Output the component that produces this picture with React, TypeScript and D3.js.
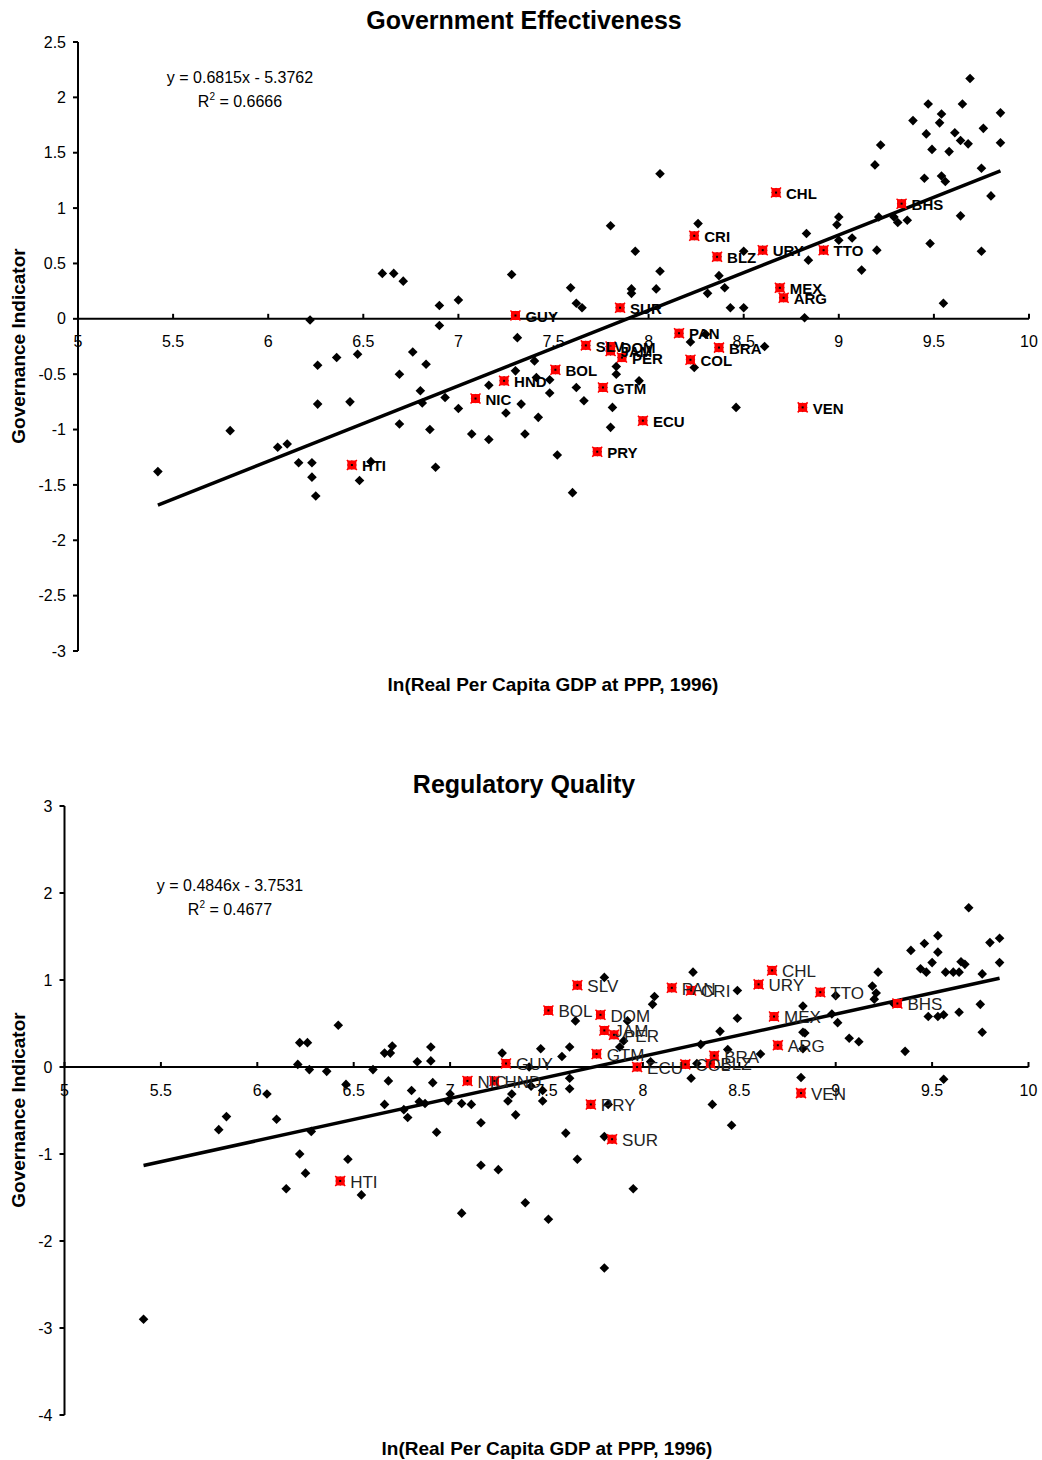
import React from "react";
import * as d3 from "d3";

// ---------- Government Effectiveness ----------
const geTitle = "Government Effectiveness";
const geSlope = 0.6815;
const geIntercept = -5.3762;
const geR2 = "0.6666";
const geYTicks = [2.5, 2, 1.5, 1, 0.5, 0, -0.5, -1, -1.5, -2, -2.5, -3];
const geOthers: [number, number][] = [
  [5.42, -1.38], [5.80, -1.01], [6.05, -1.16], [6.10, -1.13], [6.16, -1.30], [6.23, -1.30],
  [6.23, -1.43], [6.25, -1.60], [6.26, -0.42], [6.26, -0.77], [6.36, -0.35], [6.47, -0.32],
  [6.43, -0.75], [6.22, -0.01], [6.48, -1.46], [6.60, 0.41], [6.66, 0.41], [6.71, 0.34],
  [6.90, 0.12], [7.00, 0.17], [6.90, -0.06], [6.76, -0.30], [6.83, -0.41], [6.69, -0.50],
  [6.80, -0.65], [6.81, -0.76], [6.93, -0.71], [7.00, -0.81], [6.69, -0.95], [6.85, -1.00],
  [7.07, -1.04], [6.54, -1.29], [6.88, -1.34], [8.06, 1.31], [7.80, 0.84], [7.93, 0.61],
  [8.06, 0.43], [7.91, 0.27], [8.04, 0.27], [7.91, 0.23], [7.28, 0.40], [7.59, 0.28],
  [7.62, 0.14], [7.65, 0.10], [7.31, -0.17], [7.40, -0.38], [7.83, -0.43], [7.83, -0.50],
  [7.30, -0.47], [7.41, -0.53], [7.48, -0.55], [7.16, -0.60], [7.62, -0.62], [7.95, -0.56],
  [7.48, -0.67], [7.33, -0.77], [7.25, -0.85], [7.42, -0.89], [7.66, -0.74], [7.81, -0.80],
  [7.16, -1.09], [7.35, -1.04], [7.80, -0.98], [7.52, -1.23], [7.60, -1.57], [8.26, 0.86],
  [8.50, 0.61], [8.37, 0.39], [8.31, 0.23], [8.40, 0.28], [8.43, 0.10], [8.50, 0.10],
  [8.30, -0.14], [8.22, -0.21], [8.61, -0.25], [8.24, -0.44], [8.46, -0.80], [9.69, 2.17],
  [9.47, 1.94], [9.65, 1.94], [9.54, 1.85], [9.85, 1.86], [9.39, 1.79], [9.53, 1.77],
  [9.76, 1.72], [9.46, 1.67], [9.61, 1.68], [9.64, 1.61], [9.68, 1.58], [9.22, 1.57],
  [9.85, 1.59], [9.49, 1.53], [9.58, 1.51], [9.19, 1.39], [9.75, 1.36], [9.45, 1.27],
  [9.54, 1.29], [9.56, 1.24], [9.80, 1.11], [9.00, 0.92], [8.99, 0.85], [9.21, 0.92],
  [9.29, 0.92], [9.31, 0.87], [9.36, 0.89], [9.64, 0.93], [8.83, 0.77], [9.00, 0.71],
  [9.07, 0.73], [9.48, 0.68], [9.75, 0.61], [8.84, 0.53], [9.20, 0.62], [9.12, 0.44],
  [9.55, 0.14], [8.82, 0.01],
];
const geCodes = ["HTI", "NIC", "HND", "GUY", "BOL", "SLV", "GTM", "PRY", "SUR", "DOM", "JAM", "PER", "ECU",
  "PAN", "COL", "CRI", "BLZ", "BRA", "URY", "CHL", "MEX", "ARG", "VEN", "TTO", "BHS"];
const geLacX = [6.44, 7.09, 7.24, 7.30, 7.51, 7.67, 7.76, 7.73, 7.85, 7.80, 7.80, 7.86, 7.97,
  8.16, 8.22, 8.24, 8.36, 8.37, 8.60, 8.67, 8.69, 8.71, 8.81, 8.92, 9.33];
const geLacY = [-1.32, -0.72, -0.56, 0.03, -0.46, -0.24, -0.62, -1.20, 0.10, -0.25, -0.29, -0.35, -0.92,
  -0.13, -0.37, 0.75, 0.56, -0.26, 0.62, 1.14, 0.28, 0.19, -0.80, 0.62, 1.04];

// ---------- Regulatory Quality ----------
const rqTitle = "Regulatory Quality";
const rqSlope = 0.4846;
const rqIntercept = -3.7531;
const rqR2 = "0.4677";
const rqYTicks = [3, 2, 1, 0, -1, -2, -3, -4];
const rqOthers: [number, number][] = [
  [6.42, 0.48], [6.22, 0.28], [6.26, 0.28], [6.21, 0.03], [6.27, -0.03], [6.36, -0.05],
  [6.46, -0.20], [6.05, -0.31], [6.10, -0.60], [6.60, -0.03], [6.66, 0.16], [6.70, 0.24],
  [6.69, 0.16], [6.90, 0.23], [6.90, 0.07], [6.83, 0.06], [6.68, -0.16], [6.91, -0.18],
  [6.80, -0.27], [6.66, -0.43], [6.84, -0.40], [6.87, -0.42], [6.99, -0.39], [7.00, -0.31],
  [7.06, -0.42], [7.11, -0.43], [6.76, -0.49], [6.78, -0.58], [6.93, -0.75], [7.16, -0.64],
  [7.27, 0.16], [7.30, -0.39], [7.32, -0.31], [7.34, -0.55], [7.42, -0.22], [7.47, 0.21],
  [7.48, -0.39], [7.48, -0.27], [6.28, -0.74], [5.80, -0.72], [5.84, -0.57], [6.22, -1.00],
  [6.47, -1.06], [6.25, -1.22], [6.15, -1.40], [6.54, -1.47], [5.41, -2.90], [7.16, -1.13],
  [7.25, -1.18], [7.06, -1.68], [7.39, -1.56], [7.51, -1.75], [7.95, -1.40], [7.80, -2.31],
  [7.41, 0.00], [7.58, 0.12], [7.62, 0.23], [7.62, -0.13], [7.62, -0.25], [7.60, -0.76],
  [7.66, -1.06], [7.80, -0.80], [7.82, -0.43], [7.80, 1.03], [7.65, 0.53], [7.92, 0.53],
  [7.90, 0.30], [7.88, 0.23], [8.04, 0.06], [8.06, 0.81], [8.05, 0.72], [8.26, 1.09],
  [8.40, 0.41], [8.30, 0.26], [8.44, 0.20], [8.25, -0.13], [8.36, -0.43], [8.46, -0.67],
  [8.28, 0.04], [8.49, 0.88], [8.49, 0.56], [8.61, 0.15], [8.83, 0.70], [8.83, 0.40],
  [8.84, 0.39], [8.83, 0.21], [8.82, -0.12], [8.98, 0.61], [9.01, 0.51], [9.00, 0.82],
  [9.07, 0.33], [9.12, 0.29], [9.19, 0.93], [9.21, 0.85], [9.20, 0.78], [9.22, 1.09],
  [9.30, 0.73], [9.36, 0.18], [9.39, 1.34], [9.44, 1.13], [9.47, 1.09], [9.46, 1.42],
  [9.50, 1.20], [9.53, 1.51], [9.53, 1.32], [9.57, 1.09], [9.61, 1.09], [9.64, 1.09],
  [9.65, 1.21], [9.67, 1.18], [9.69, 1.83], [9.76, 1.07], [9.80, 1.43], [9.85, 1.48],
  [9.85, 1.20], [9.75, 0.72], [9.64, 0.63], [9.48, 0.58], [9.53, 0.58], [9.56, 0.60],
  [9.76, 0.40], [9.56, -0.14],
];
const rqCodes = ["HTI", "NIC", "HND", "GUY", "BOL", "SLV", "DOM", "JAM", "PER", "GTM", "PRY", "SUR", "ECU",
  "PAN", "CRI", "COL", "BLZ", "BRA", "URY", "CHL", "MEX", "ARG", "VEN", "TTO", "BHS"];
const rqLacX = [6.43, 7.09, 7.23, 7.29, 7.51, 7.66, 7.78, 7.80, 7.85, 7.76, 7.73, 7.84, 7.97,
  8.15, 8.25, 8.22, 8.35, 8.37, 8.60, 8.67, 8.68, 8.70, 8.82, 8.92, 9.32];
const rqLacY = [-1.31, -0.16, -0.16, 0.04, 0.65, 0.94, 0.60, 0.42, 0.37, 0.15, -0.43, -0.83, 0.00,
  0.91, 0.88, 0.03, 0.04, 0.13, 0.95, 1.11, 0.58, 0.25, -0.30, 0.86, 0.73];

const xTicks = [5, 5.5, 6, 6.5, 7, 7.5, 8, 8.5, 9, 9.5, 10];
const xTitle = "ln(Real Per Capita GDP at PPP, 1996)";
const yTitle = "Governance Indicator";

const FONT = "'Liberation Sans', Arial, Helvetica, sans-serif";

type PanelProps = {
  title: string;
  titleY: number;
  x0: number; x1: number;
  yTop: number; yBot: number;
  yTicks: number[];
  others: [number, number][];
  codes: string[]; lacX: number[]; lacY: number[];
  slope: number; intercept: number; r2: string;
  eqX: number; eqY: number;
  xTitleX: number; xTitleY: number;
  yTitleY: number;
  boldLabels: boolean;
  labelSize: number;
};

function diamond(cx: number, cy: number, r: number) {
  return `M${cx},${cy - r}L${cx + r},${cy}L${cx},${cy + r}L${cx - r},${cy}Z`;
}

function Panel(p: PanelProps) {
  const ymin = d3.min(p.yTicks)!;
  const ymax = d3.max(p.yTicks)!;
  const x = d3.scaleLinear().domain([5, 10]).range([p.x0, p.x1]);
  const y = d3.scaleLinear().domain([ymin, ymax]).range([p.yBot, p.yTop]);
  const allX = [...p.others.map((d) => d[0]), ...p.lacX];
  const [ex0, ex1] = d3.extent(allX) as [number, number];
  const line = d3.line<number>().x((v) => x(v)).y((v) => y(p.slope * v + p.intercept));
  const eqText = `y = ${p.slope}x - ${Math.abs(p.intercept)}`;
  const y0 = y(0);
  return (
    <g fontFamily={FONT}>
      <text x={524} y={p.titleY} textAnchor="middle" fontSize={25} fontWeight="bold">{p.title}</text>
      {/* y axis */}
      <line x1={p.x0} x2={p.x0} y1={p.yTop} y2={p.yBot} stroke="#000" strokeWidth={2} />
      {p.yTicks.map((t) => (
        <g key={"yt" + t}>
          <line x1={p.x0 - 5} x2={p.x0} y1={y(t)} y2={y(t)} stroke="#000" strokeWidth={2} />
          <text x={p.x0 - 12} y={y(t)} dy="0.35em" textAnchor="end" fontSize={16}>{t}</text>
        </g>
      ))}
      {/* x axis at 0 */}
      <line x1={p.x0} x2={p.x1} y1={y0} y2={y0} stroke="#000" strokeWidth={2} />
      {xTicks.map((t) => (
        <g key={"xt" + t}>
          <line x1={x(t)} x2={x(t)} y1={y0} y2={y0 - 5} stroke="#000" strokeWidth={2} />
          <text x={x(t)} y={y0 + 23} dy="0.35em" textAnchor="middle" fontSize={16}>{t}</text>
        </g>
      ))}
      {/* trend line */}
      <path d={line([ex0, ex1]) || ""} stroke="#000" strokeWidth={3.5} fill="none" />
      {/* other countries */}
      {p.others.map((d, i) => (
        <path key={"o" + i} d={diamond(x(d[0]), y(d[1]), 4.8)} fill="#000" />
      ))}
      {/* LAC countries */}
      {p.codes.map((c, i) => {
        const cx = x(p.lacX[i]);
        const cy = y(p.lacY[i]);
        return (
          <g key={"l" + c}>
            <path d={diamond(cx, cy, 4.8)} fill="#000" />
            <rect x={cx - 4.5} y={cy - 4.5} width={9} height={9} fill="#ff0000" />
            <path d={`M${cx - 5},${cy - 5}L${cx + 5},${cy + 5}M${cx - 5},${cy + 5}L${cx + 5},${cy - 5}`} stroke="#ff0000" strokeWidth={1.5} />
            <rect x={cx - 1} y={cy - 1} width={2} height={2} fill="#000" />
          </g>
        );
      })}
      {p.codes.map((c, i) => (
        <text key={"t" + c} x={x(p.lacX[i]) + 10} y={y(p.lacY[i]) + 1} dy="0.35em"
          fontSize={p.labelSize} fontWeight={p.boldLabels ? "bold" : "normal"}
          fill={p.boldLabels ? "#000" : "#222"}>{c}</text>
      ))}
      {/* equation */}
      <text x={p.eqX} y={p.eqY} textAnchor="middle" fontSize={16}>{eqText}</text>
      <text x={p.eqX} y={p.eqY + 24} textAnchor="middle" fontSize={16}>
        R<tspan dy={-7} fontSize={10}>2</tspan><tspan dy={7}> = {p.r2}</tspan>
      </text>
      {/* axis titles */}
      <text x={p.xTitleX} y={p.xTitleY} textAnchor="middle" fontSize={19} fontWeight="bold">{xTitle}</text>
      <text transform={`translate(25,${p.yTitleY}) rotate(-90)`} textAnchor="middle" fontSize={19} fontWeight="bold">{yTitle}</text>
    </g>
  );
}

export default function App() {
  return (
    <svg width={1042} height={1460} style={{ position: "absolute", left: 0, top: 0, background: "#fff" }}>
      <rect width={1042} height={1460} fill="#fff" />
      <Panel title={geTitle} titleY={29} x0={78} x1={1029} yTop={42} yBot={651}
        yTicks={geYTicks} others={geOthers} codes={geCodes} lacX={geLacX} lacY={geLacY}
        slope={geSlope} intercept={geIntercept} r2={geR2} eqX={240} eqY={83}
        xTitleX={553} xTitleY={691} yTitleY={346} boldLabels={true} labelSize={15} />
      <Panel title={rqTitle} titleY={793} x0={64.5} x1={1028.5} yTop={806} yBot={1415}
        yTicks={rqYTicks} others={rqOthers} codes={rqCodes} lacX={rqLacX} lacY={rqLacY}
        slope={rqSlope} intercept={rqIntercept} r2={rqR2} eqX={230} eqY={891}
        xTitleX={547} xTitleY={1455} yTitleY={1110} boldLabels={false} labelSize={17} />
    </svg>
  );
}
